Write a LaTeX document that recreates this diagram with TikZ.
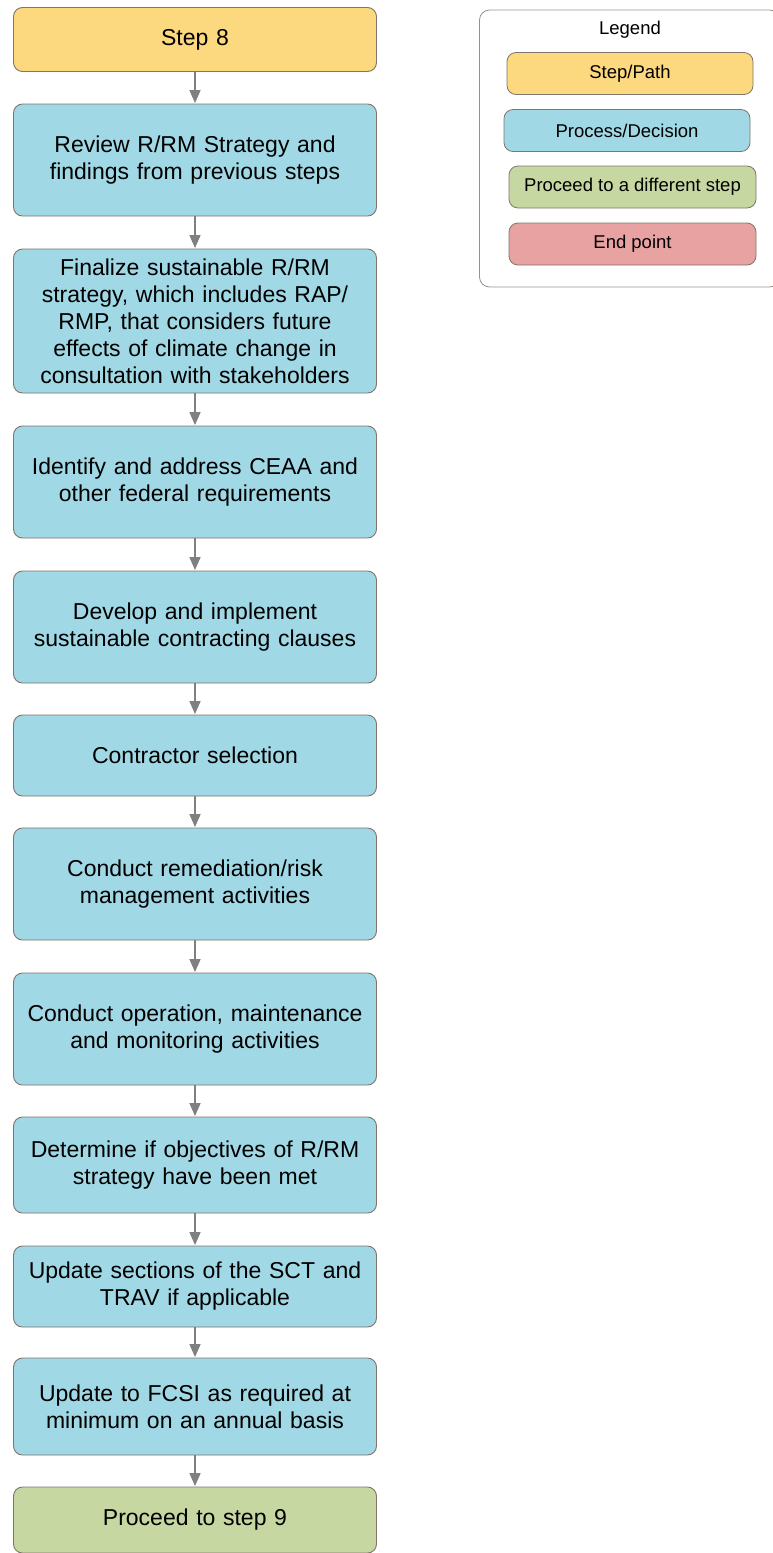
\documentclass[tikz,border=0pt]{standalone}
\usepackage{fontspec}
\setmainfont{Liberation Sans}
\usetikzlibrary{arrows.meta}
\definecolor{cyel}{RGB}{252,216,126}
\definecolor{cblue}{RGB}{161,216,229}
\definecolor{cgreen}{RGB}{198,215,161}
\definecolor{cred}{RGB}{233,162,162}
\definecolor{cedge}{RGB}{128,116,108}
\definecolor{carrow}{RGB}{128,128,128}
\tikzset{
  box/.style={draw=cedge, line width=0.9pt, rounded corners=9pt, minimum width=363pt, inner sep=0pt,
    text width=350pt, align=center, font=\fontsize{23}{27}\selectfont},
  lbox/.style={draw=cedge, line width=0.8pt, rounded corners=9pt, minimum width=246pt, minimum height=42pt, inner sep=0pt,
    align=center, font=\fontsize{18.5}{22}\selectfont},
  arr/.style={draw=carrow, line width=1.6pt, -{Triangle[length=13pt,width=11pt]}, shorten >=0.5pt}
}
\begin{document}
\begin{tikzpicture}[x=1pt,y=-1pt]
\useasboundingbox (0,0) rectangle (772,1553);
% legend
\node[draw=cedge!80!white, line width=0.8pt, rounded corners=10pt, minimum width=300pt, minimum height=277pt, inner sep=0pt] (legend) at (629.5,148.5) {};
\node[font=\fontsize{18.5}{22}\selectfont] (legendt) at (630,30) {Legend};
\node[lbox, fill=cyel] (lstep) at (630,73.5) {Step/Path};
\node[lbox, fill=cblue] (lproc) at (627,130.5) {Process/Decision};
\node[lbox, fill=cgreen, minimum width=247pt] (lgreen) at (632.5,187) {Proceed to a different step};
\node[lbox, fill=cred, minimum width=247pt] (lend) at (632.5,244) {End point};
% main column
\node[box, fill=cyel, minimum height=64pt] (s8) at (195,39.5) {Step 8};
\node[box, fill=cblue, minimum height=112pt] (review) at (195,160) {Review R/RM Strategy and\\findings from previous steps};
\node[box, fill=cblue, minimum height=144pt] (final) at (195,321) {Finalize sustainable R/RM\\strategy, which includes RAP/\\RMP, that considers future\\effects of climate change in\\consultation with stakeholders};
\node[box, fill=cblue, minimum height=112pt] (ident) at (195,482) {Identify and address CEAA and\\other federal requirements};
\node[box, fill=cblue, minimum height=112pt] (devel) at (195,627) {Develop and implement\\sustainable contracting clauses};
\node[box, fill=cblue, minimum height=81pt] (contr) at (195,755.5) {Contractor selection};
\node[box, fill=cblue, minimum height=112pt] (remed) at (195,884) {Conduct remediation/risk\\management activities};
\node[box, fill=cblue, minimum height=112pt] (oper) at (195,1029) {Conduct operation, maintenance\\and monitoring activities};
\node[box, fill=cblue, minimum height=96pt] (deter) at (195,1165) {Determine if objectives of R/RM\\strategy have been met};
\node[box, fill=cblue, minimum height=81pt] (sct) at (195,1286.5) {Update sections of the SCT and\\TRAV if applicable};
\node[box, fill=cblue, minimum height=97pt] (fcsi) at (195,1406.5) {Update to FCSI as required at\\minimum on an annual basis};
\node[box, fill=cgreen, minimum height=66pt] (proc9) at (195,1520) {Proceed to step 9};
% arrows
\draw[arr] (s8) -- (review);
\draw[arr] (review) -- (final);
\draw[arr] (final) -- (ident);
\draw[arr] (ident) -- (devel);
\draw[arr] (devel) -- (contr);
\draw[arr] (contr) -- (remed);
\draw[arr] (remed) -- (oper);
\draw[arr] (oper) -- (deter);
\draw[arr] (deter) -- (sct);
\draw[arr] (sct) -- (fcsi);
\draw[arr] (fcsi) -- (proc9);
\end{tikzpicture}
\end{document}
